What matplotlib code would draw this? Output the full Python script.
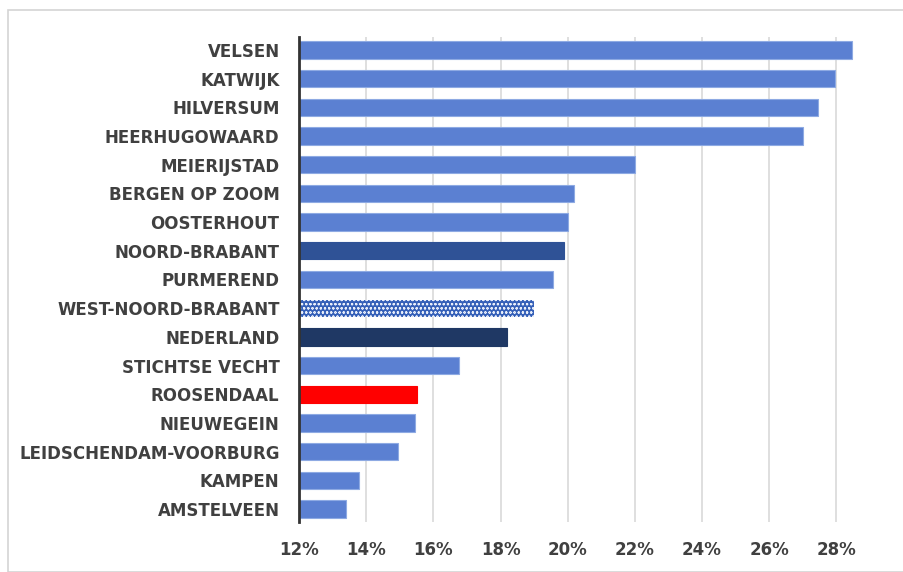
import numpy as np
import matplotlib
matplotlib.use('Agg')
import matplotlib.pyplot as plt
from matplotlib.patches import Rectangle
from matplotlib.ticker import FuncFormatter

plt.rcParams['font.family'] = ['DejaVu Sans']
plt.rcParams['hatch.linewidth'] = 0.5

# ---- data (top to bottom) ----
regions = ['VELSEN', 'KATWIJK', 'HILVERSUM', 'HEERHUGOWAARD', 'MEIERIJSTAD',
           'BERGEN OP ZOOM', 'OOSTERHOUT', 'NOORD-BRABANT', 'PURMEREND',
           'WEST-NOORD-BRABANT', 'NEDERLAND', 'STICHTSE VECHT', 'ROOSENDAAL',
           'NIEUWEGEIN', 'LEIDSCHENDAM-VOORBURG', 'KAMPEN', 'AMSTELVEEN']
values = [28.45, 27.95, 27.45, 27.0, 22.0, 20.2, 20.0, 19.9, 19.55,
          19.0, 18.2, 16.75, 15.5, 15.45, 14.95, 13.8, 13.4]
ticks = [12, 14, 16, 18, 20, 22, 24, 26, 28]

base = '#5b80d2'
special = {
    'NOORD-BRABANT': '#2f5296',
    'NEDERLAND': '#1f3864',
    'ROOSENDAAL': '#ff0000',
}

fig = plt.figure(figsize=(9.04, 5.72), dpi=100)
fig.patches.append(Rectangle((8 / 904, 0), 1, 1 - 10 / 572, transform=fig.transFigure,
                             fill=False, edgecolor='#d4d4d4', linewidth=1.2))
ax = fig.add_axes([299 / 904, 50 / 572, (870 - 299) / 904, (535 - 50) / 572])

n = len(regions)
ypos = np.arange(n)[::-1]
for y, name, v in zip(ypos, regions, values):
    if name == 'WEST-NOORD-BRABANT':
        ax.barh(y, v - 12, left=12, height=0.6, color='#3560b8',
                edgecolor='#e8eefa', linewidth=0, hatch='oooo', zorder=3)
    else:
        ax.barh(y, v - 12, left=12, height=0.6, color=special.get(name, base),
                edgecolor='#8eaae3' if name not in special else special[name],
                linewidth=0.8, zorder=3)

ax.set_xlim(12, 29)
ax.set_ylim(-0.45, n - 1 + 0.45)
ax.set_xticks(ticks)
ax.xaxis.set_major_formatter(FuncFormatter(lambda x, _: f'{x:.0f}%'))
ax.set_yticks(ypos)
ax.set_yticklabels(regions)
ax.grid(True, axis='x', color='#d6d6d6', linewidth=1.1, zorder=0)
for s in ['top', 'right', 'bottom']:
    ax.spines[s].set_visible(False)
ax.spines['left'].set_color('#333333')
ax.spines['left'].set_linewidth(2)
ax.spines['left'].set_zorder(4)
ax.tick_params(axis='both', length=0, colors='#404040')
ax.tick_params(axis='x', pad=14)
ax.tick_params(axis='y', pad=14)
for lab in ax.get_xticklabels():
    lab.set_fontweight('bold')
    lab.set_fontsize(12)
for lab in ax.get_yticklabels():
    lab.set_fontweight('bold')
    lab.set_fontsize(12)

fig.savefig('out.png', dpi=100)
